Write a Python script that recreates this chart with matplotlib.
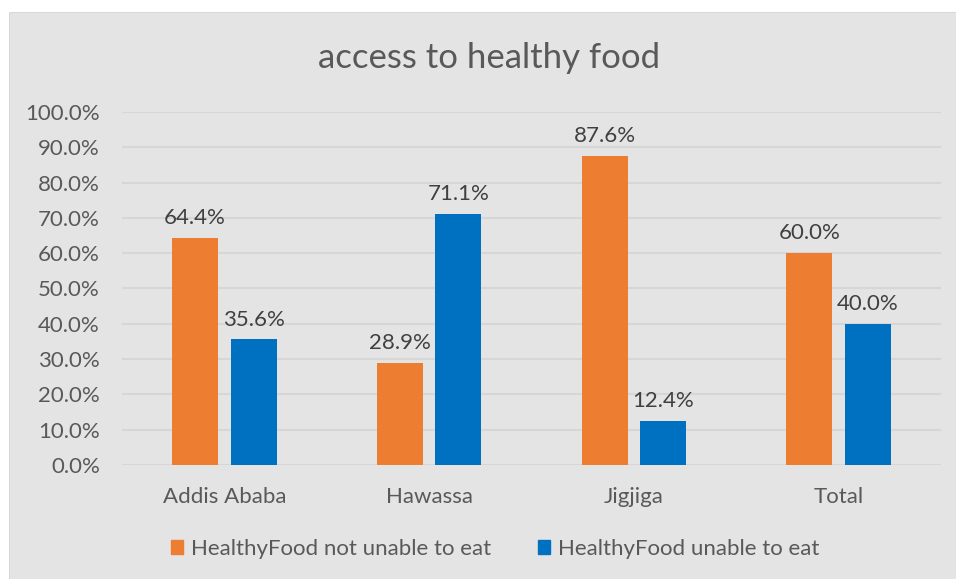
import numpy as np
import matplotlib.pyplot as plt
from matplotlib.patches import Rectangle, Patch
from matplotlib.lines import Line2D
from matplotlib.ticker import PercentFormatter

plt.rcParams['font.family'] = ['Lato', 'DejaVu Sans']

cities = ["Addis Ababa", "Hawassa", "Jigjiga", "Total"]
not_unable = [64.4, 28.9, 87.6, 60.0]
unable = [35.6, 71.1, 12.4, 40.0]
series_names = ["HealthyFood not unable to eat", "HealthyFood unable to eat"]

orange = "#ED7D31"
blue = "#0070C0"
bg = "#E4E4E4"
fs = 16

fig = plt.figure(figsize=(9.56, 5.79), dpi=100)
fig.patch.set_facecolor("white")
# chart background, with a thin frame on the top and left only
x0, y0 = 10 / 956, 1 - 13 / 579
fig.patches.append(Rectangle((x0, 0), 1 - x0, y0, transform=fig.transFigure,
                             facecolor=bg, edgecolor="none", zorder=-1))
fig.lines.append(Line2D([x0, x0, 1], [0, y0, y0], transform=fig.transFigure,
                        color="#D0D0D0", linewidth=1.2, zorder=-1))

ax = fig.add_axes([0.1276, 0.1969, 0.8567, 0.6097])
ax.set_zorder(1)
ax.patch.set_alpha(0)

x = np.arange(len(cities))
w = 0.225
off = 0.143
b1 = ax.bar(x - off, not_unable, w, color=orange, zorder=3)
b2 = ax.bar(x + off, unable, w, color=blue, zorder=3)

for bars, vals in ((b1, not_unable), (b2, unable)):
    for b, v in zip(bars, vals):
        ax.annotate(f"{v:.1f}%", (b.get_x() + b.get_width() / 2, v),
                    xytext=(0, 7), textcoords="offset points",
                    ha="center", va="bottom", fontsize=fs, color="#404040")

ax.set_xlim(-0.5, 3.5)
ax.set_ylim(0, 100)
ax.set_yticks(np.arange(0, 101, 10))
ax.yaxis.set_major_formatter(PercentFormatter(decimals=1))
ax.set_xticks(x)
ax.set_xticklabels(cities)
ax.grid(axis="y", color="#D6D6D6", linewidth=1.5, zorder=0)
for s in ax.spines.values():
    s.set_visible(False)
ax.tick_params(length=0, labelsize=fs, labelcolor="#595959")
ax.tick_params(axis="x", pad=16)
ax.tick_params(axis="y", pad=16)

fig.text(0.512, 0.90, "access to healthy food", ha="center", va="center",
         fontsize=25, color="#595959")

handles = [Patch(color=orange), Patch(color=blue)]
fig.legend(handles, series_names, loc="center", bbox_to_anchor=(0.518, 0.052),
           ncol=2, frameon=False, fontsize=fs, labelcolor="#595959",
           handlelength=0.55, handleheight=0.55, handletextpad=0.35, columnspacing=2.1)

fig.savefig("out.png", dpi=100, facecolor=fig.get_facecolor())
